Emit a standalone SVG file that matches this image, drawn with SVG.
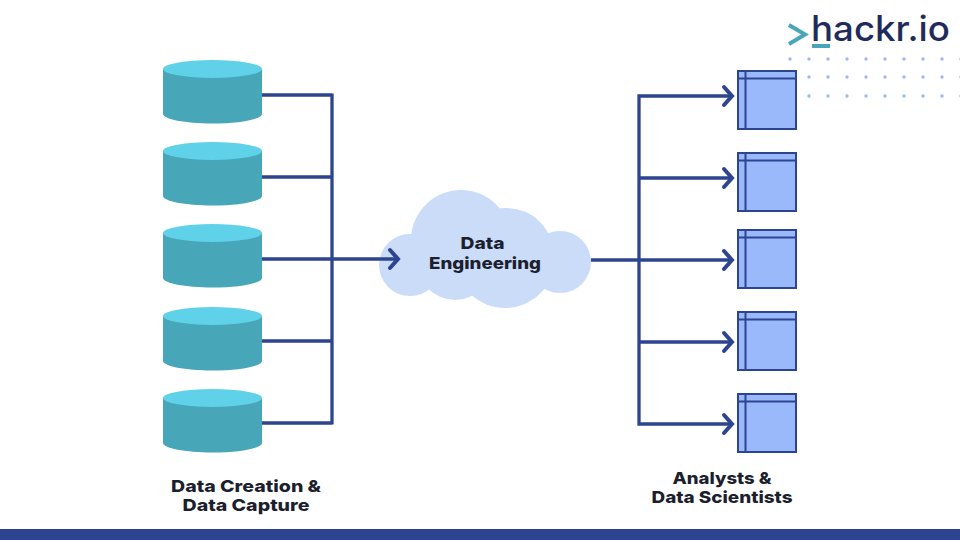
<svg xmlns="http://www.w3.org/2000/svg" width="960" height="540" viewBox="0 0 960 540">
<style>
.side{fill:#48a6b9}.top{fill:#5fd1e8}
.ln{fill:none;stroke:#2d4491;stroke-width:3.300;stroke-linecap:butt;stroke-linejoin:miter}
.ah{fill:none;stroke:#2d4491;stroke-width:4;stroke-linecap:round;stroke-linejoin:miter}
.win{fill:#9ab9fb;stroke:#2d4491;stroke-width:2}
.wl{fill:none;stroke:#2d4491;stroke-width:2}
.cl{fill:#cbdcf9}
.t{font-family:Inter,"Liberation Sans",sans-serif;font-weight:800;font-size:16.500px;fill:#1c1f2e;text-anchor:middle}
.dot{fill:#9ab9fb}
</style>
<defs>
<g id="cyl"><path class="side" d="M163 0V45C163 50 185 54.500 212.500 54.500S262 50 262 45V0Z"/><ellipse class="top" cx="212.500" cy="0" rx="49.500" ry="9"/></g>
<g id="win"><rect class="win" x="738" y="0" width="58" height="58"/><path class="wl" d="M738 7.500H796M745.500 0V58"/></g>
<path id="chev" class="ah" d="M-8-9L0 0L-8 9"/>
</defs>
<rect x="0" y="529" width="960" height="11" fill="#2d4491"/>
<g id="dots">
<g class="dot"><circle cx="790" cy="59" r="1.700"/><circle cx="809" cy="59" r="1.700"/><circle cx="828" cy="59" r="1.700"/><circle cx="847" cy="59" r="1.700"/><circle cx="866" cy="59" r="1.700"/><circle cx="885" cy="59" r="1.700"/><circle cx="904" cy="59" r="1.700"/><circle cx="923" cy="59" r="1.700"/><circle cx="942" cy="59" r="1.700"/><circle cx="961" cy="59" r="1.700"/>
<circle cx="809" cy="77" r="1.700"/><circle cx="828" cy="77" r="1.700"/><circle cx="847" cy="77" r="1.700"/><circle cx="866" cy="77" r="1.700"/><circle cx="885" cy="77" r="1.700"/><circle cx="904" cy="77" r="1.700"/><circle cx="923" cy="77" r="1.700"/><circle cx="942" cy="77" r="1.700"/><circle cx="961" cy="77" r="1.700"/>
<circle cx="809" cy="96" r="1.700"/><circle cx="828" cy="96" r="1.700"/><circle cx="847" cy="96" r="1.700"/><circle cx="866" cy="96" r="1.700"/><circle cx="885" cy="96" r="1.700"/><circle cx="904" cy="96" r="1.700"/><circle cx="923" cy="96" r="1.700"/><circle cx="942" cy="96" r="1.700"/><circle cx="961" cy="96" r="1.700"/></g>
</g>
<g id="cloud"><g class="cl"><circle cx="461" cy="240" r="50"/><circle cx="510" cy="250" r="41"/><circle cx="560" cy="262" r="31"/><circle cx="410" cy="265" r="31"/><circle cx="505" cy="258" r="50"/><circle cx="455" cy="262" r="38"/></g>
<text class="t" x="482.500" y="249" textLength="44" lengthAdjust="spacingAndGlyphs">Data</text><text class="t" x="485" y="269" textLength="112" lengthAdjust="spacingAndGlyphs">Engineering</text></g>
<g id="connectors">
<path class="ln" d="M262 95H332M262 177H332M262 341H332M262 423H332M332 93.500V424.500M262 259H397"/>
<path class="ln" d="M591 260H639M732 96H639V424H732M639 178H732M639 260H732M639 342H732"/>
<use href="#chev" x="398" y="259"/>
<use href="#chev" x="732" y="96"/><use href="#chev" x="732" y="178"/><use href="#chev" x="732" y="260"/><use href="#chev" x="732" y="342"/><use href="#chev" x="732" y="424"/>
</g>
<g id="db1"><use href="#cyl" y="69"/></g>
<g id="db2"><use href="#cyl" y="151"/></g>
<g id="db3"><use href="#cyl" y="233"/></g>
<g id="db4"><use href="#cyl" y="316"/></g>
<g id="db5"><use href="#cyl" y="398"/></g>
<g id="win1"><use href="#win" y="71"/></g>
<g id="win2"><use href="#win" y="153"/></g>
<g id="win3"><use href="#win" y="230"/></g>
<g id="win4"><use href="#win" y="312"/></g>
<g id="win5"><use href="#win" y="394"/></g>
<g id="label-left"><text class="t" x="246" y="492" textLength="150" lengthAdjust="spacingAndGlyphs">Data Creation &amp;</text><text class="t" x="246" y="511" textLength="127" lengthAdjust="spacingAndGlyphs">Data Capture</text></g>
<g id="label-right"><text class="t" x="722" y="484" textLength="99" lengthAdjust="spacingAndGlyphs">Analysts &amp;</text><text class="t" x="722" y="503" textLength="141" lengthAdjust="spacingAndGlyphs">Data Scientists</text></g>
<g id="logo"><path d="M789 25L805 34.500L789 44" fill="none" stroke="#48a6b9" stroke-width="4"/><rect x="812" y="44" width="18" height="4" fill="#48a6b9"/>
<text x="811" y="41" font-family="Inter,'Liberation Sans',sans-serif" font-size="35" font-weight="500" fill="#1f2b5c" textLength="139" lengthAdjust="spacingAndGlyphs">hackr.io</text></g>
</svg>
